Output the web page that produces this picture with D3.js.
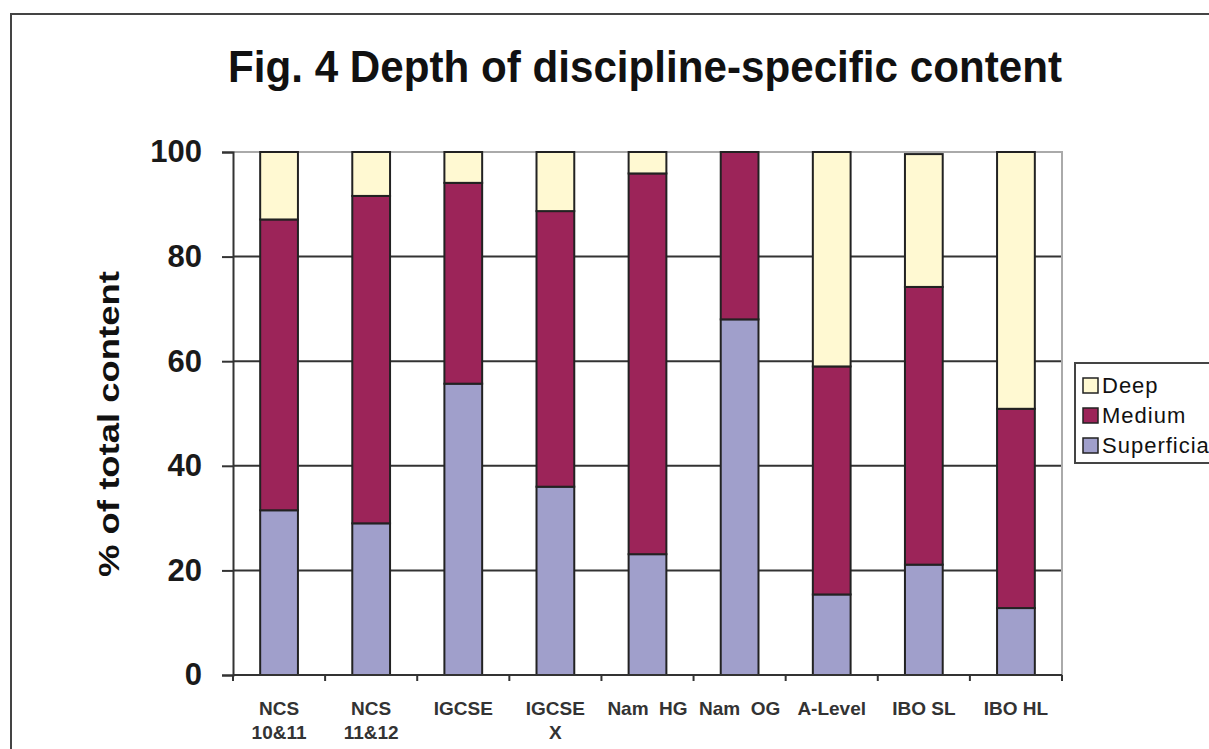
<!DOCTYPE html>
<html>
<head>
<meta charset="utf-8">
<script src="https://cdn.jsdelivr.net/npm/d3@7/dist/d3.min.js"></script>
<style>
  html, body { margin: 0; padding: 0; background: #fff; }
  svg { display: block; }
  text { font-family: "Liberation Sans", Arial, sans-serif; }
</style>
</head>
<body>
<svg id="chart" width="1209" height="749"></svg>
<script>
// ---- data ----
const categories = ["NCS|10&11", "NCS|11&12", "IGCSE", "IGCSE|X", "Nam  HG", "Nam  OG", "A-Level", "IBO SL", "IBO HL"];
const superficial = [31.5, 29.0, 55.7, 36.0, 23.1, 68.0, 15.4, 21.1, 12.8];
const medium      = [55.6, 62.6, 38.4, 52.7, 72.8, 32.0, 43.6, 53.1, 38.1];
const deep        = [12.9,  8.4,  5.9, 11.3,  4.1,  0.0, 41.0, 25.4, 49.1];
const seriesNames = ["Superficial", "Medium", "Deep"];
const legendOrder = ["Deep", "Medium", "Superficial"];
const legendLabels = { Deep: "Deep", Medium: "Medium", Superficial: "Superficia" };
const yTicks = [0, 20, 40, 60, 80, 100];
const title = "Fig. 4 Depth of discipline-specific content";
const yLabel = "% of total content";

(function () {
const colors = { Superficial: "#a09fcb", Medium: "#9c2459", Deep: "#fff9d2" };

const rows = categories.map((c, i) => ({ cat: c, Superficial: superficial[i], Medium: medium[i], Deep: deep[i] }));

const svg = d3.select("#chart");

// outer frame
svg.append("path").attr("d", "M11,749 L11,14 L1209,14")
  .attr("fill", "none").attr("stroke", "#444").attr("stroke-width", 2);

// title
svg.append("text").attr("x", 645).attr("y", 82)
  .attr("text-anchor", "middle").attr("font-size", 45).attr("font-weight", "bold")
  .attr("textLength", 834).attr("lengthAdjust", "spacingAndGlyphs")
  .attr("fill", "#111").text(title);

const pL = 233, pR = 1062, pT = 152, pB = 675;

const x = d3.scaleBand().domain(categories).range([pL, pR]).paddingInner(0.59).paddingOuter(0.295);
const y = d3.scaleLinear().domain([0, 100]).range([pB, pT]);

// grid lines
svg.append("g").selectAll("line").data(yTicks.filter(t => t > 0 && t < 100)).join("line")
  .attr("x1", pL).attr("x2", pR).attr("y1", d => y(d)).attr("y2", d => y(d))
  .attr("stroke", "#333").attr("stroke-width", 2);

// top and right border
svg.append("path").attr("d", `M${pL},${y(100)} L${pR},${y(100)} L${pR},${pB}`)
  .attr("fill", "none").attr("stroke", "#aaa").attr("stroke-width", 2);

// stacked bars
const stack = d3.stack().keys(seriesNames)(rows);
svg.append("g").selectAll("g").data(stack).join("g")
  .attr("fill", d => colors[d.key])
  .selectAll("rect").data(d => d.filter(p => p[1] - p[0] > 0)).join("rect")
  .attr("x", d => x(d.data.cat))
  .attr("width", x.bandwidth())
  .attr("y", d => y(d[1]))
  .attr("height", d => y(d[0]) - y(d[1]))
  .attr("stroke", "#222").attr("stroke-width", 2);

// y axis
const yAxis = d3.axisLeft(y).tickValues(yTicks).tickSize(11).tickPadding(20).tickFormat(d3.format("d"));
const ya = svg.append("g").attr("transform", `translate(${pL},0)`).call(yAxis);
ya.select(".domain").attr("stroke", "#333").attr("stroke-width", 2);
ya.selectAll(".tick line").attr("stroke", "#333").attr("stroke-width", 2);
ya.selectAll(".tick text").attr("font-size", 31).attr("font-weight", "bold").attr("fill", "#1a1a1a")
  .attr("font-family", "Liberation Sans, Arial, sans-serif");

// x axis
const xAxis = d3.axisBottom(x).tickSize(0).tickPadding(0).tickFormat("");
const xa = svg.append("g").attr("transform", `translate(0,${pB})`).call(xAxis);
xa.select(".domain").attr("stroke", "#333").attr("stroke-width", 2).attr("d", `M${pL},0H${pR}`);
// band-boundary ticks
const bounds = categories.map(c => x(c) - x.step() * x.paddingInner() / 2).concat([pR]);
xa.selectAll("line.bt").data(bounds).join("line").attr("class", "bt")
  .attr("x1", d => d).attr("x2", d => d).attr("y1", 0).attr("y2", 6)
  .attr("stroke", "#333").attr("stroke-width", 2);
// category labels
const labels = svg.append("g");
categories.forEach(c => {
  const parts = c.split("|");
  const t = labels.append("text").attr("x", x(c) + x.bandwidth() / 2).attr("y", 715)
    .attr("text-anchor", "middle").attr("font-size", 19).attr("font-weight", "bold").attr("fill", "#333")
    .style("white-space", "pre");
  parts.forEach((p, i) => {
    t.append("tspan").attr("x", x(c) + x.bandwidth() / 2).attr("dy", i === 0 ? 0 : 24).text(p);
  });
});

// y label
svg.append("text").attr("transform", `translate(119,424) rotate(-90)`)
  .attr("text-anchor", "middle").attr("font-size", 30).attr("font-weight", "bold")
  .attr("textLength", 306).attr("lengthAdjust", "spacingAndGlyphs")
  .attr("fill", "#111").text(yLabel);

// legend
const lg = svg.append("g");
lg.append("rect").attr("x", 1075).attr("y", 363).attr("width", 150).attr("height", 100)
  .attr("fill", "#fff").attr("stroke", "#444").attr("stroke-width", 2);
legendOrder.forEach((k, i) => {
  const yy = 393 + i * 30;
  lg.append("rect").attr("x", 1083).attr("y", yy - 15).attr("width", 15).attr("height", 15)
    .attr("fill", colors[k]).attr("stroke", "#222").attr("stroke-width", 1.5);
  lg.append("text").attr("x", 1102).attr("y", yy).attr("font-size", 22)
    .attr("letter-spacing", 1).attr("fill", "#111").text(legendLabels[k]);
});
})();
</script>
</body>
</html>
